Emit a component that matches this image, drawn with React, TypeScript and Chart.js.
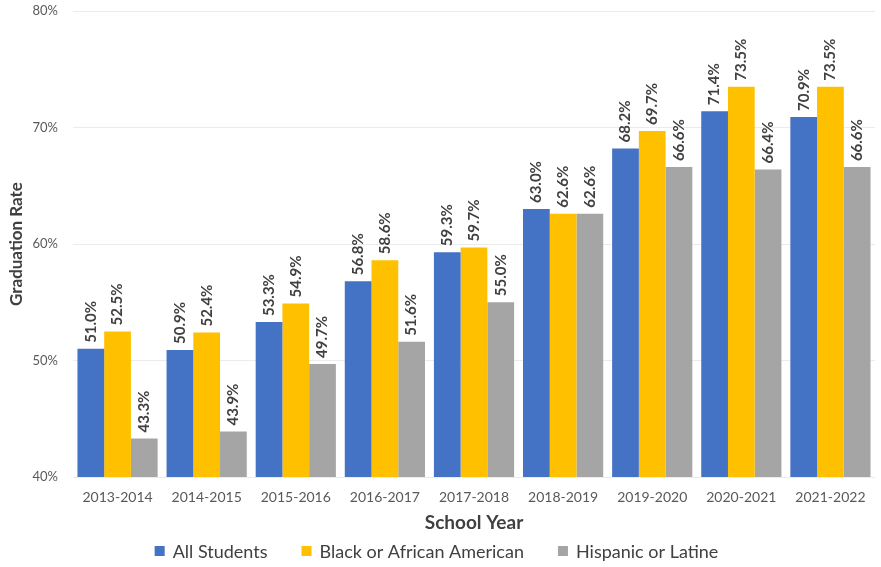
import React, { useEffect, useRef } from "react";
import { Chart, registerables } from "chart.js";

Chart.register(...registerables);

const categories = ["2013-2014", "2014-2015", "2015-2016", "2016-2017", "2017-2018", "2018-2019", "2019-2020", "2020-2021", "2021-2022"];
const allStudents = [51.0, 50.9, 53.3, 56.8, 59.3, 63.0, 68.2, 71.4, 70.9];
const blackAfricanAmerican = [52.5, 52.4, 54.9, 58.6, 59.7, 62.6, 69.7, 73.5, 73.5];
const hispanicLatine = [43.3, 43.9, 49.7, 51.6, 55.0, 62.6, 66.6, 66.4, 66.6];
const yTicks = [40, 50, 60, 70, 80];

const FONT = "Lato, 'Open Sans', sans-serif";
const LEGEND_SPACE = 32;

const barLabels = {
  id: "barLabels",
  afterDatasetsDraw(chart: any) {
    const ctx = chart.ctx;
    ctx.save();
    ctx.font = `bold 15px ${FONT}`;
    ctx.fillStyle = "#404040";
    ctx.textAlign = "left";
    ctx.textBaseline = "middle";
    chart.data.datasets.forEach((ds: any, i: number) => {
      const meta = chart.getDatasetMeta(i);
      meta.data.forEach((bar: any, j: number) => {
        const v = ds.data[j];
        ctx.save();
        ctx.translate(bar.x, bar.y - 6);
        ctx.rotate(-Math.PI / 2);
        ctx.fillText(v.toFixed(1) + "%", 0, 0);
        ctx.restore();
      });
    });
    ctx.restore();
  },
};

const bottomLegend = {
  id: "bottomLegend",
  afterDraw(chart: any) {
    const ctx = chart.ctx;
    const items = chart.data.datasets.map((ds: any) => ({ text: ds.label, color: ds.backgroundColor }));
    const box = 10;
    const gapText = 8;
    const gapItem = 34;
    ctx.save();
    ctx.font = `18px ${FONT}`;
    const widths = items.map((it: any) => box + gapText + ctx.measureText(it.text).width);
    const total = widths.reduce((a: number, b: number) => a + b, 0) + gapItem * (items.length - 1);
    let x = (chart.width - total) / 2 - 4;
    const cy = chart.height - LEGEND_SPACE / 2;
    ctx.textBaseline = "middle";
    ctx.textAlign = "left";
    items.forEach((it: any, i: number) => {
      ctx.fillStyle = it.color;
      ctx.fillRect(x, cy - box / 2, box, box);
      ctx.fillStyle = "#404040";
      ctx.fillText(it.text, x + box + gapText, cy + 1);
      x += widths[i] + gapItem;
    });
    ctx.restore();
  },
};

export default function App() {
  const ref = useRef<HTMLCanvasElement>(null);
  useEffect(() => {
    if (!ref.current) return;
    const chart = new Chart(ref.current, {
      type: "bar",
      data: {
        labels: categories,
        datasets: [
          { label: "All Students", data: allStudents, backgroundColor: "#4472C4" },
          { label: "Black or African American", data: blackAfricanAmerican, backgroundColor: "#FFC000" },
          { label: "Hispanic or Latine", data: hispanicLatine, backgroundColor: "#A5A5A5" },
        ],
      },
      options: {
        animation: false,
        responsive: true,
        maintainAspectRatio: false,
        layout: { padding: { top: 11, right: 6, left: 6, bottom: LEGEND_SPACE } },
        datasets: { bar: { categoryPercentage: 0.9, barPercentage: 1.0 } },
        plugins: {
          tooltip: { enabled: false },
          legend: { display: false },
        },
        scales: {
          x: {
            grid: { display: false, drawTicks: false },
            border: { display: false },
            ticks: { color: "#595959", font: { family: FONT, size: 14 }, padding: 12 },
            title: {
              display: true,
              text: "School Year",
              color: "#404040",
              font: { family: FONT, size: 19, weight: "bold" },
              padding: { top: 0, bottom: 1 },
            },
            afterFit: (axis: any) => {
              axis.height = 58;
            },
          },
          y: {
            min: 40,
            max: 80,
            afterBuildTicks: (axis: any) => {
              axis.ticks = yTicks.map((v) => ({ value: v }));
            },
            grid: { color: "#ebebeb", drawTicks: false },
            border: { display: false },
            ticks: {
              color: "#595959",
              font: { family: FONT, size: 13 },
              padding: 15,
              callback: (v: any) => v + "%",
            },
            title: {
              display: true,
              text: "Graduation Rate",
              color: "#404040",
              font: { family: FONT, size: 17, weight: "bold" },
              padding: { top: 0, bottom: 0 },
            },
            afterFit: (axis: any) => {
              axis.width = 67;
              axis.paddingTop = 7;
              axis.paddingBottom = 0;
            },
          },
        },
      },
      plugins: [barLabels, bottomLegend],
    });
    return () => chart.destroy();
  }, []);
  return (
    <div style={{ position: "fixed", left: 0, top: 0, width: 881, height: 567, background: "#fff" }}>
      <canvas ref={ref} />
    </div>
  );
}
